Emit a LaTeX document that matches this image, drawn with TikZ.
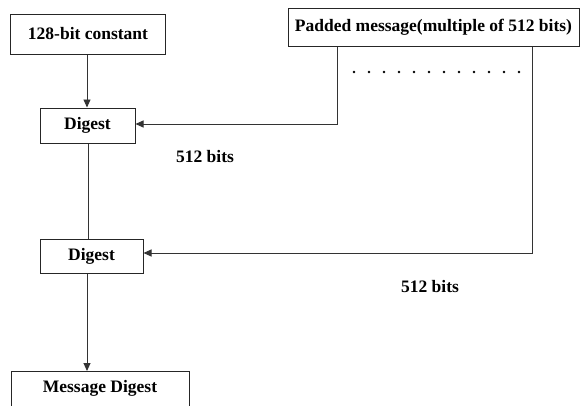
\documentclass[tikz,border=0pt]{standalone}
\usepackage{fontspec}
\setmainfont{Liberation Serif}
\usetikzlibrary{arrows.meta}
\begin{document}
\begin{tikzpicture}[x=1pt,y=-1pt,
  box/.style={draw=black!85,line width=1pt,inner sep=0pt,font=\bfseries\fontsize{17.5}{20}\selectfont},
  conn/.style={draw=black!80,line width=0.9pt},
  arr/.style={conn,-{Triangle[length=8pt,width=7pt]}},
  lbl/.style={font=\bfseries\fontsize{17.5}{20}\selectfont,inner sep=0pt}]
\useasboundingbox[fill=white] (0,0) rectangle (584,405);
\clip (0,0) rectangle (584,405);
\node[box,minimum width=155pt,minimum height=40pt] (const) at (88,34) {128-bit constant};
\node[box,minimum width=291pt,minimum height=38pt] (pad) at (433.5,27) {Padded message(multiple of 512 bits)};
\node[box,minimum width=95pt,minimum height=35pt] (d1) at (87.5,125.5) {Digest};
\node[box,minimum width=103pt,minimum height=34pt] (d2) at (91.5,256) {Digest};
\node[box,minimum width=178pt,minimum height=40pt,anchor=north west] (md) at (11,371) {};
\node[lbl] (mdt) at (100,388) {Message Digest};
\node[lbl] (l1) at (205,157) {512 bits};
\node[lbl] (l2) at (430,287) {512 bits};
\coordinate (p1) at (337,124);
\coordinate (p2) at (532,253);
\draw[arr] (const.south -| 87,0) -- (d1.north -| 87,0);
\draw[arr] (pad.south -| p1) -- (p1) -- (d1.east |- p1);
\draw[arr] (pad.south -| p2) -- (p2) -- (d2.east |- p2);
\draw[conn] (d1.south -| 88,0) -- (d2.north -| 88,0);
\draw[arr] (d2.south -| 87,0) -- (md.north -| 87,0);
\foreach \i in {0,...,11} \fill (354+\i*15,72) circle (1.4pt);
\end{tikzpicture}
\end{document}
